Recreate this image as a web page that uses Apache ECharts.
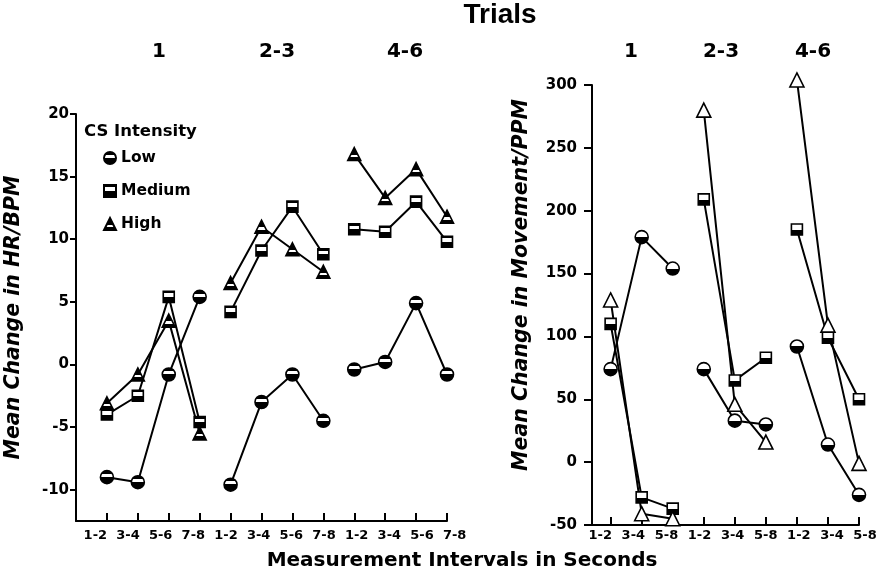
<!DOCTYPE html>
<html>
<head>
<meta charset="utf-8">
<script src="https://cdn.jsdelivr.net/npm/echarts@6.0.0/dist/echarts.min.js"></script>
<style>
html,body{margin:0;padding:0;background:#fff;}
#chart{width:886px;height:581px;}
</style>
</head>
<body>
<div id="chart"></div>
<script>
// ---------- data ----------
const trialGroups = ['1', '2-3', '4-6'];
const hrIntervals = ['1-2', '3-4', '5-6', '7-8'];
const mvIntervals = ['1-2', '3-4', '5-8'];
const levels = ['Low', 'Medium', 'High'];

const hrTicks = [-10, -5, 0, 5, 10, 15, 20];
const mvTicks = [-50, 0, 50, 100, 150, 200, 250, 300];

// Mean change in HR/BPM, one row per trial group
const hrLow    = [[-9.0, -9.4, -0.8, 5.4], [-9.6, -3.0, -0.8, -4.5], [-0.4, 0.2, 4.9, -0.8]];
const hrMedium = [[-4.0, -2.5, 5.4, -4.6], [4.2, 9.1, 12.6, 8.8], [10.8, 10.6, 13.0, 9.8]];
const hrHigh   = [[-3.1, -0.8, 3.5, -5.5], [6.5, 11.0, 9.2, 7.4], [16.8, 13.3, 15.6, 11.8]];

// Mean change in Movement/PPM, one row per trial group
const mvLow    = [[74, 179, 154], [74, 33, 30], [92, 14, -26]];
const mvMedium = [[110, -28, -37], [209, 65, 83], [185, 99, 50]];
const mvHigh   = [[129, -41, -45], [280, 46, 16], [304, 109, -1]];

// ---------- helpers ----------
function grad(stops) {
  return {type: 'linear', x: 0, y: 0, x2: 0, y2: 1, colorStops: stops};
}
const W = '#fff', K = '#000';
const styles = {
  hr: {
    Low:    {symbol: 'circle',   size: 13, fill: grad([{offset:0,color:K},{offset:0.28,color:K},{offset:0.28,color:W},{offset:0.48,color:W},{offset:0.48,color:K},{offset:1,color:K}])},
    Medium: {symbol: 'rect',     size: 11, fill: grad([{offset:0,color:K},{offset:0.22,color:K},{offset:0.22,color:W},{offset:0.5,color:W},{offset:0.5,color:K},{offset:1,color:K}])},
    High:   {symbol: 'triangle', size: 13, fill: grad([{offset:0,color:K},{offset:0.55,color:K},{offset:0.55,color:W},{offset:0.7,color:W},{offset:0.7,color:K},{offset:1,color:K}])}
  },
  mv: {
    Low:    {symbol: 'circle',   size: 13, fill: grad([{offset:0,color:W},{offset:0.5,color:W},{offset:0.5,color:K},{offset:1,color:K}])},
    Medium: {symbol: 'rect',     size: 11, fill: grad([{offset:0,color:W},{offset:0.55,color:W},{offset:0.55,color:K},{offset:1,color:K}])},
    High:   {symbol: 'triangle', size: 14, fill: W}
  }
};

function buildSeries(panel, name, rows, perGroup, axisIndex) {
  const st = styles[panel][name];
  return rows.map((row, g) => ({
    type: 'line',
    name: name,
    xAxisIndex: axisIndex,
    yAxisIndex: axisIndex,
    data: row.map((v, i) => [g * perGroup + i, v]),
    symbol: st.symbol,
    symbolSize: st.size,
    clip: false,
    itemStyle: {color: st.fill, borderColor: K, borderWidth: 1.6},
    lineStyle: {color: K, width: 2},
    emphasis: {disabled: true},
    animation: false,
    z: 3
  }));
}

const series = [].concat(
  buildSeries('hr', 'Low', hrLow, 4, 0),
  buildSeries('hr', 'Medium', hrMedium, 4, 0),
  buildSeries('hr', 'High', hrHigh, 4, 0),
  buildSeries('mv', 'Low', mvLow, 3, 1),
  buildSeries('mv', 'Medium', mvMedium, 3, 1),
  buildSeries('mv', 'High', mvHigh, 3, 1)
);

const hrLabels = [].concat(...trialGroups.map(() => hrIntervals));
const mvLabels = [].concat(...trialGroups.map(() => mvIntervals));
const hrPos = hrLabels.map((_, i) => i);
const mvPos = mvLabels.map((_, i) => i);

const bold = {fontFamily: 'DejaVu Sans', fontWeight: 'bold', color: '#000'};
const axLine = {show: true, onZero: false, lineStyle: {color: K, width: 2}};
const nameFont = {fontFamily: 'DejaVu Sans', fontWeight: 'bold', fontStyle: 'italic', fontSize: 20.5};

function groupLabel(text, x) {
  return {type: 'text', x: x, y: 52, style: {text: text, fontFamily: 'DejaVu Sans', fontWeight: 'bold', fontSize: 20, fill: K, align: 'center', verticalAlign: 'middle'}};
}

const option = {
  backgroundColor: '#fff',
  animation: false,
  grid: [
    {left: 76, top: 114, width: 371, height: 407},
    {left: 592, top: 85, width: 267, height: 440},
    {left: 79, top: 114, width: 392, height: 407},
    {left: 583.7, top: 85, width: 297.9, height: 440}
  ],
  xAxis: [
    {gridIndex: 0, type: 'value', min: -1, max: 11, axisLine: axLine,
     axisTick: {show: true, inside: true, length: 8, customValues: hrPos, lineStyle: {color: K, width: 2}},
     axisLabel: {show: false}, splitLine: {show: false}},
    {gridIndex: 1, type: 'value', min: -0.6, max: 8, axisLine: axLine,
     axisTick: {show: true, inside: true, length: 8, customValues: mvPos, lineStyle: {color: K, width: 2}},
     axisLabel: {show: false}, splitLine: {show: false}},
    {gridIndex: 2, type: 'value', min: -0.5, max: 11.5, axisLine: {show: false}, axisTick: {show: false},
     splitLine: {show: false},
     axisLabel: Object.assign({show: true, fontSize: 13, margin: 8, customValues: hrPos,
       formatter: v => hrLabels[Math.round(v)] || ''}, bold)},
    {gridIndex: 3, type: 'value', min: -0.5, max: 8.5, axisLine: {show: false}, axisTick: {show: false},
     splitLine: {show: false},
     axisLabel: Object.assign({show: true, fontSize: 13, margin: 4, customValues: mvPos,
       formatter: v => mvLabels[Math.round(v)] || ''}, bold)}
  ],
  yAxis: [
    {gridIndex: 0, type: 'value', min: -12.5, max: 20, axisLine: axLine,
     axisTick: {show: true, length: 6, customValues: hrTicks, lineStyle: {color: K, width: 2}},
     axisLabel: Object.assign({fontSize: 15, margin: 7, customValues: hrTicks}, bold),
     splitLine: {show: false},
     name: 'Mean Change in HR/BPM', nameLocation: 'middle', nameRotate: 90, nameGap: 52,
     nameTextStyle: Object.assign({color: K}, nameFont)},
    {gridIndex: 1, type: 'value', min: -50, max: 300, axisLine: axLine,
     axisTick: {show: true, length: 8, customValues: mvTicks, lineStyle: {color: K, width: 2}},
     axisLabel: Object.assign({fontSize: 15, margin: 15, customValues: mvTicks}, bold),
     splitLine: {show: false}},
    {gridIndex: 2, type: 'value', min: 0, max: 1, show: false},
    {gridIndex: 3, type: 'value', min: 0, max: 1, show: false}
  ],
  legend: {
    orient: 'vertical', left: 98, top: 145, itemWidth: 12, itemHeight: 12, itemGap: 17,
    selectedMode: false,
    textStyle: Object.assign({fontSize: 15.5}, bold),
    data: [{name: 'Low', icon: 'circle'}, {name: 'Medium', icon: 'rect'}, {name: 'High', icon: 'triangle'}]
  },
  graphic: [
    {type: 'text', x: 84, y: 132, style: {text: 'CS Intensity', fontFamily: 'DejaVu Sans', fontWeight: 'bold', fontSize: 16.5, fill: K, verticalAlign: 'middle'}},
    {type: 'text', x: 500, y: 15, style: {text: 'Trials', fontFamily: 'Liberation Sans', fontWeight: 'bold', fontSize: 28, fill: K, align: 'center', verticalAlign: 'middle'}},
    groupLabel(trialGroups[0], 159),
    groupLabel(trialGroups[1], 277),
    groupLabel(trialGroups[2], 405),
    groupLabel(trialGroups[0], 631),
    groupLabel(trialGroups[1], 721),
    groupLabel(trialGroups[2], 813),
    {type: 'text', x: 522, y: 285, rotation: Math.PI / 2,
     style: Object.assign({text: 'Mean Change in Movement/PPM', fill: K, align: 'center', verticalAlign: 'middle'}, nameFont)},
    {type: 'text', x: 462, y: 561, style: {text: 'Measurement Intervals in Seconds', fontFamily: 'DejaVu Sans', fontWeight: 'bold', fontSize: 20, fill: K, align: 'center', verticalAlign: 'middle'}}
  ],
  series: series
};

const chart = echarts.init(document.getElementById('chart'), null, {renderer: 'canvas'});
chart.setOption(option);
</script>
</body>
</html>
